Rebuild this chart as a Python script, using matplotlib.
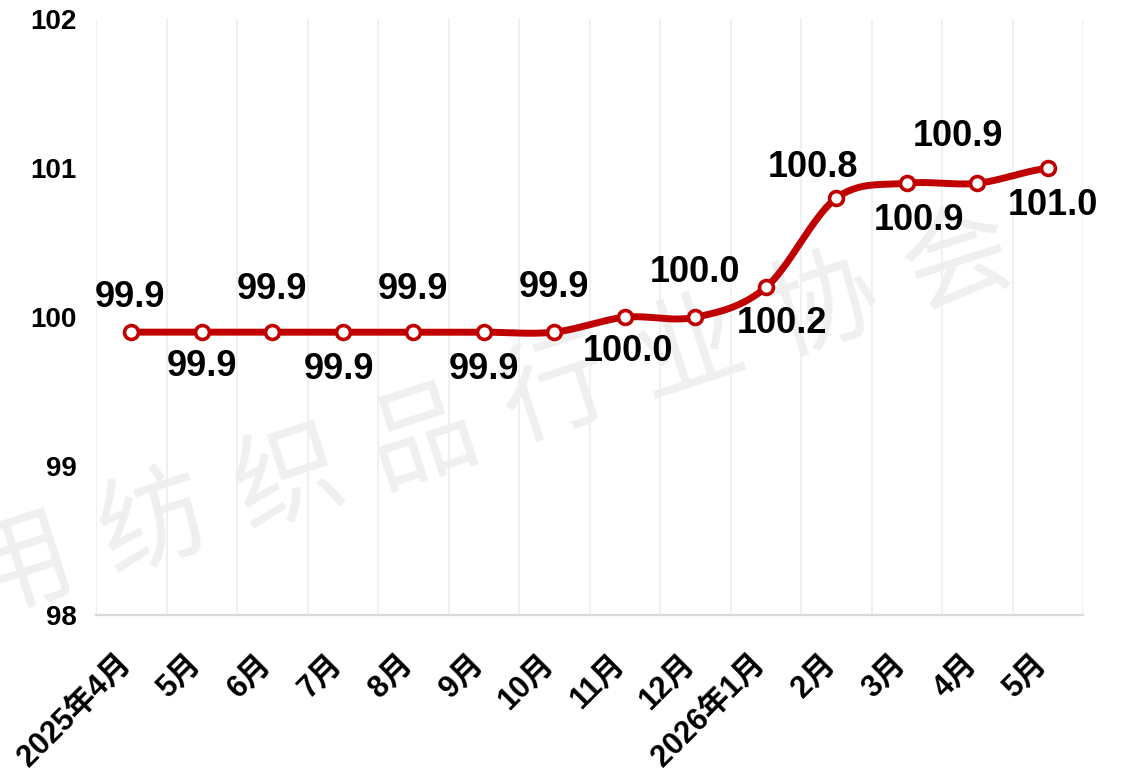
import matplotlib
matplotlib.use("Agg")
import matplotlib.pyplot as plt
import matplotlib.transforms as mtransforms
import numpy as np

# data
months = ["2025年4月", "5月", "6月", "7月", "8月", "9月", "10月", "11月", "12月",
          "2026年1月", "2月", "3月", "4月", "5月"]
values = [99.9, 99.9, 99.9, 99.9, 99.9, 99.9, 99.9, 100.0, 100.0,
          100.2, 100.8, 100.9, 100.9, 101.0]
y_ticks = [98, 99, 100, 101, 102]
watermark = "用纺织品行业协会"

# label offsets in points (dx, dy)
label_offsets = [(-1, 25), (0, -25), (0, 31), (-3, -27), (0, 31), (0, -27), (0, 32),
                 (2, -25), (0, 32), (12, -26), (-17, 22), (9, -27), (-14, 34), (4, -27)]

RED = "#C00000"
FONT = ["Liberation Sans", "Noto Sans CJK SC"]


def smooth(ys, steps=40):
    # cubic hermite through the points, like excel's smoothed line
    ys = np.asarray(ys, dtype=float)
    n = len(ys)
    m = np.empty(n)
    m[1:-1] = (ys[2:] - ys[:-2]) / 2
    m[0] = (ys[1] - ys[0]) / 2
    m[-1] = (ys[-1] - ys[-2]) / 2
    xs_out, ys_out = [], []
    t = np.linspace(0, 1, steps, endpoint=False)
    h00 = 2 * t**3 - 3 * t**2 + 1
    h10 = t**3 - 2 * t**2 + t
    h01 = -2 * t**3 + 3 * t**2
    h11 = t**3 - t**2
    for i in range(n - 1):
        xs_out.append(i + t)
        ys_out.append(h00 * ys[i] + h10 * m[i] + h01 * ys[i + 1] + h11 * m[i + 1])
    xs_out.append([n - 1])
    ys_out.append([ys[-1]])
    return np.concatenate(xs_out), np.concatenate(ys_out)


fig = plt.figure(figsize=(11.27, 7.79), dpi=100)
ax = fig.add_axes([0.0852, 0.2105, 0.8758, 0.7645])
ax.set_zorder(1)

# watermark, behind the axes
wm_x0, wm_y0 = 20, 570
for k, ch in enumerate(watermark):
    px = wm_x0 + k * 134
    py = wm_y0 - k * 44
    fig.text(px / 1127, 1 - py / 779, ch, fontsize=78, color="#efefef",
             family="Noto Sans CJK SC", fontweight="light", rotation=18,
             ha="center", va="center", zorder=-1)

x = np.arange(len(values))
sx, sy = smooth(values)
ax.plot(sx, sy, color=RED, lw=5, solid_capstyle="round", zorder=3)
ax.plot(x, values, "o", ms=10, mfc="white", mec=RED, mew=2.6, zorder=4)

for i, v in enumerate(values):
    dx, dy = label_offsets[i]
    ax.annotate(f"{v:.1f}", (i, v), xytext=(dx, dy), textcoords="offset points",
                ha="center", va="center", fontsize=26, fontweight="bold",
                family=FONT, color="black", zorder=5)

ax.set_xlim(-0.5, len(values) - 0.5)
ax.set_ylim(98, 102)
ax.set_yticks(y_ticks)
ax.set_yticklabels([str(t) for t in y_ticks], fontsize=20, fontweight="bold", family=FONT)
ax.set_xticks(x)
ax.set_xticklabels([])

# rotated month labels, drawn as text so they can sit lower
lab_tr = ax.get_xaxis_transform() + mtransforms.ScaledTranslation(-4 / 72, -32 / 72, fig.dpi_scale_trans)
for i, m in enumerate(months):
    ax.text(i, 0, m, transform=lab_tr, fontsize=22, fontweight="bold", family=FONT,
            rotation=45, ha="right", va="center", rotation_mode="anchor", clip_on=False)

ax.tick_params(axis="both", length=0)
ax.tick_params(axis="y", pad=14)

# vertical grid at category boundaries
for b in np.arange(-0.5, len(values), 1.0):
    ax.axvline(b, color="#eeeeee", lw=1.2, zorder=1)

for side in ("top", "right", "left"):
    ax.spines[side].set_visible(False)
ax.spines["bottom"].set_color("#d9d9d9")
ax.spines["bottom"].set_linewidth(1.6)
ax.patch.set_alpha(0)

fig.savefig("out.png", dpi=100)
